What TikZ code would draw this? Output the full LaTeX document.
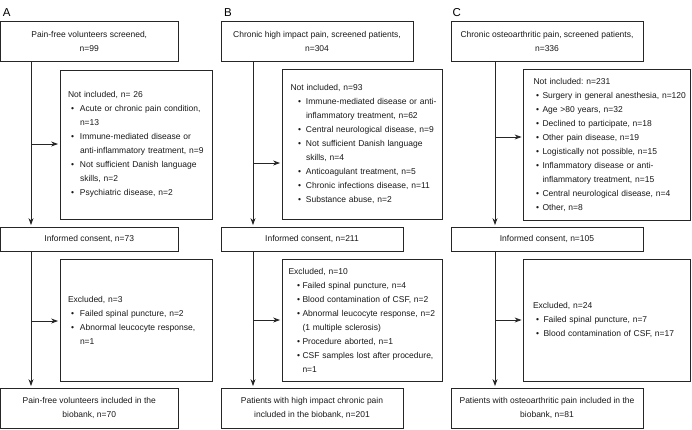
\documentclass[tikz,border=0pt]{standalone}
\usepackage{fontspec}
\setmainfont{Liberation Sans}
\usetikzlibrary{arrows.meta}
\frenchspacing
\newlength\bulA
\newlength\bulB
\newcommand\itm[1]{\mbox{\hspace*{\bulA}\makebox[0pt]{\textbullet}\hspace*{\bulB}#1}}
\newcommand\cnt[1]{\mbox{\hspace*{\dimexpr\bulA+\bulB\relax}#1}}
\begin{document}
\begin{tikzpicture}[x=1pt,y=-1pt,
  box/.style={draw=black!85, line width=0.8pt, align=center, inner sep=0pt,
    font=\fontsize{8.5pt}{14pt}\selectfont\frenchspacing, text=black!90},
  lst/.style n args={3}{box, align=left, inner xsep=#1,
    execute at begin node={\setlength\bulA{#2}\setlength\bulB{#3}}},
  arr/.style={draw=black!85, line width=0.8pt, -{Stealth[length=7pt,width=5pt]}, shorten >=1.5pt},
  lab/.style={inner sep=0pt, anchor=base west, font=\fontsize{11.5pt}{13pt}\selectfont}]
\useasboundingbox (0,0) rectangle (692,429);

% ---------------- Panel A
\node[lab] (labA) at (2.7,16.7) {A};
\node[box, minimum width=177.5pt, minimum height=40pt] (topA) at (89.25,41)
  {Pain-free volunteers screened,\\n=99};
\node[lst={8pt}{4.5pt}{7.5pt}, text width=136pt, minimum height=149pt] (notA) at (136,144.5)
  {Not included, n= 26\\
   \itm{Acute or chronic pain condition,}\\
   \cnt{n=13}\\
   \itm{Immune-mediated disease or}\\
   \cnt{anti-inflammatory treatment, n=9}\\
   \itm{Not sufficient Danish language}\\
   \cnt{skills, n=2}\\
   \itm{Psychiatric disease, n=2}};
\node[box, minimum width=177.5pt, minimum height=24pt] (consA) at (89.25,239)
  {Informed consent, n=73};
\node[lst={8pt}{4.5pt}{7.5pt}, text width=136pt, minimum height=122pt] (exA) at (136,320)
  {Excluded, n=3\\
   \itm{Failed spinal puncture, n=2}\\
   \itm{Abnormal leucocyte response,}\\
   \cnt{n=1}};
\node[box, minimum width=177.5pt, minimum height=40pt] (finA) at (89.25,408)
  {Pain-free volunteers included in the\\biobank, n=70};
\coordinate (sA) at (31,0);
\coordinate (bA1) at (31,144);
\coordinate (bA2) at (31,321);
\draw[arr] (topA.south -| sA) -- (consA.north -| sA);
\draw[arr] (consA.south -| sA) -- (finA.north -| sA);
\draw[arr] (bA1) -- (bA1 -| notA.west);
\draw[arr] (bA2) -- (bA2 -| exA.west);

% ---------------- Panel B
\node[lab] (labB) at (224,16.7) {B};
\node[box, minimum width=192pt, minimum height=40pt] (topB) at (317,41)
  {Chronic high impact pain, screened patients,\\n=304};
\node[lst={8.5pt}{9pt}{6.5pt}, text width=143pt, minimum height=150pt] (notB) at (362,144)
  {Not included, n=93\\
   \itm{Immune-mediated disease or anti-}\\
   \cnt{inflammatory treatment, n=62}\\
   \itm{Central neurological disease, n=9}\\
   \itm{Not sufficient Danish language}\\
   \cnt{skills, n=4}\\
   \itm{Anticoagulant treatment, n=5}\\
   \itm{Chronic infections disease, n=11}\\
   \itm{Substance abuse, n=2}};
\node[box, minimum width=182pt, minimum height=24pt] (consB) at (312,239)
  {Informed consent, n=211};
\node[lst={6.5pt}{10pt}{4pt}, text width=147pt, minimum height=122pt] (exB) at (362,320)
  {Excluded, n=10\\
   \itm{Failed spinal puncture, n=4}\\
   \itm{Blood contamination of CSF, n=2}\\
   \itm{Abnormal leucocyte response, n=2}\\
   \cnt{(1 multiple sclerosis)}\\
   \itm{Procedure aborted, n=1}\\
   \itm{CSF samples lost after procedure,}\\
   \cnt{n=1}};
\node[box, minimum width=182pt, minimum height=40pt] (finB) at (312,408)
  {Patients with high impact chronic pain\\included in the biobank, n=201};
\coordinate (sB) at (253,0);
\coordinate (bB1) at (253,163);
\coordinate (bB2) at (253,320);
\draw[arr] (topB.south -| sB) -- (consB.north -| sB);
\draw[arr] (consB.south -| sB) -- (finB.north -| sB);
\draw[arr] (bB1) -- (bB1 -| notB.west);
\draw[arr] (bB2) -- (bB2 -| exB.west);

% ---------------- Panel C
\node[lab] (labC) at (452.5,16.7) {C};
\node[box, minimum width=192pt, minimum height=40pt] (topC) at (547,41)
  {Chronic osteoarthritic pain, screened patients,\\n=336};
\node[lst={10pt}{4pt}{5pt}, text width=146.5pt, minimum height=151pt] (notC) at (606.75,144.5)
  {Not included: n=231\\
   \itm{Surgery in general anesthesia, n=120}\\
   \itm{Age >80 years, n=32}\\
   \itm{Declined to participate, n=18}\\
   \itm{Other pain disease, n=19}\\
   \itm{Logistically not possible, n=15}\\
   \itm{Inflammatory disease or anti-}\\
   \cnt{inflammatory treatment, n=15}\\
   \itm{Central neurological disease, n=4}\\
   \itm{Other, n=8}};
\node[box, minimum width=192pt, minimum height=24pt] (consC) at (547,239)
  {Informed consent, n=105};
\node[lst={9.5pt}{4.5pt}{6pt}, text width=147.5pt, minimum height=122pt] (exC) at (606.75,320)
  {Excluded, n=24\\
   \itm{Failed spinal puncture, n=7}\\
   \itm{Blood contamination of CSF, n=17}};
\node[box, minimum width=192pt, minimum height=40pt] (finC) at (547,408)
  {Patients with osteoarthritic pain included in the\\biobank, n=81};
\coordinate (sC) at (495,0);
\coordinate (bC1) at (495,137);
\coordinate (bC2) at (495,320);
\draw[arr] (topC.south -| sC) -- (consC.north -| sC);
\draw[arr] (consC.south -| sC) -- (finC.north -| sC);
\draw[arr] (bC1) -- (bC1 -| notC.west);
\draw[arr] (bC2) -- (bC2 -| exC.west);
\end{tikzpicture}
\end{document}
